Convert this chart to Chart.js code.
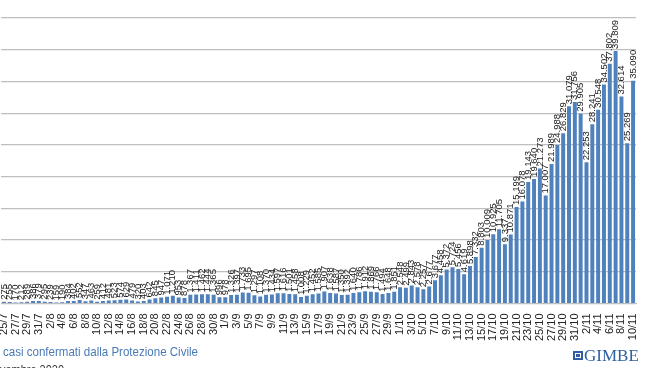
<!DOCTYPE html>
<html>
<head>
<meta charset="utf-8">
<script src="https://cdn.jsdelivr.net/npm/chart.js@4.4.0/dist/chart.umd.min.js"></script>
<style>
  html, body { margin: 0; padding: 0; background: #fff; overflow: hidden; }
  canvas { display: block; }
</style>
</head>
<body>
<canvas id="chart" width="654" height="368"></canvas>
<script>
// giorni dal 25/7 al 10/11
const days = [
  "25/7","26/7","27/7","28/7","29/7","30/7","31/7",
  "1/8","2/8","3/8","4/8","5/8","6/8","7/8","8/8","9/8","10/8","11/8","12/8","13/8","14/8","15/8","16/8",
  "17/8","18/8","19/8","20/8","21/8","22/8","23/8","24/8","25/8","26/8","27/8","28/8","29/8","30/8","31/8",
  "1/9","2/9","3/9","4/9","5/9","6/9","7/9","8/9","9/9","10/9","11/9","12/9","13/9","14/9","15/9",
  "16/9","17/9","18/9","19/9","20/9","21/9","22/9","23/9","24/9","25/9","26/9","27/9","28/9","29/9","30/9",
  "1/10","2/10","3/10","4/10","5/10","6/10","7/10","8/10","9/10","10/10","11/10","12/10","13/10","14/10","15/10","16/10",
  "17/10","18/10","19/10","20/10","21/10","22/10","23/10","24/10","25/10","26/10","27/10","28/10","29/10","30/10","31/10",
  "1/11","2/11","3/11","4/11","5/11","6/11","7/11","8/11","9/11","10/11"
];

// nuovi casi giornalieri
const cases = [
  275, 255, 170, 212, 289, 386, 379,
  295, 239, 159, 190, 384, 402, 552, 347, 463, 259, 412, 481, 523, 574, 629, 479,
  320, 403, 642, 845, 947, 1071, 1210, 953, 878, 1367, 1411, 1462, 1444, 1365, 996,
  978, 1326, 1397, 1733, 1695, 1297, 1108, 1370, 1434, 1597, 1616, 1501, 1458, 1008, 1229,
  1452, 1585, 1907, 1638, 1587, 1350, 1392, 1640, 1786, 1912, 1869, 1766, 1494, 1648, 1851,
  2548, 2499, 2843, 2578, 2257, 2677, 3677, 4458, 5372, 5724, 5456, 4619, 5898, 7332, 8803, 10009,
  10925, 11705, 9337, 10871, 15199, 16078, 19143, 19640, 21273, 17007, 21989, 24988, 26829, 31079, 31756,
  29905, 22253, 28241, 30548, 34502, 37802, 39809, 32614, 25269, 35090
];

const yTicks = [0, 5000, 10000, 15000, 20000, 25000, 30000, 35000, 40000, 45000];

const footerText = "casi confermati dalla Protezione Civile";
const footerText2 = "vembre 2020";

function fmt(v) {
  return String(v).replace(/\B(?=(\d{3})+(?!\d))/g, ".");
}

const valueLabels = {
  id: "valueLabels",
  afterDatasetsDraw(chart) {
    const ctx = chart.ctx;
    const meta = chart.getDatasetMeta(0);
    ctx.save();
    ctx.font = "9.5px 'Liberation Sans', Arial, sans-serif";
    ctx.fillStyle = "#1a1a1a";
    ctx.textAlign = "left";
    ctx.textBaseline = "middle";
    meta.data.forEach((bar, i) => {
      ctx.save();
      ctx.translate(bar.x, bar.y - 2);
      ctx.rotate(-Math.PI / 2);
      ctx.fillText(fmt(cases[i]), 0, 0);
      ctx.restore();
    });
    ctx.restore();
  },
  afterDraw(chart) {
    const ctx = chart.ctx;
    ctx.save();
    ctx.fillStyle = "#4a7ab5";
    ctx.font = "13px 'Liberation Sans', Arial, sans-serif";
    ctx.textBaseline = "alphabetic";
    ctx.fillText(footerText, 3, 356, 195);
    ctx.fillStyle = "#333";
    ctx.font = "12px 'Liberation Sans', Arial, sans-serif";
    ctx.fillText(footerText2, 0, 374, 64);
    // logo GIMBE
    ctx.fillStyle = "#2f5f9e";
    ctx.fillRect(573, 351, 10, 9);
    ctx.strokeStyle = "#fff";
    ctx.lineWidth = 1;
    ctx.strokeRect(575.5, 353.5, 5, 4);
    ctx.font = "17px 'Liberation Serif', 'Times New Roman', serif";
    ctx.fillText("GIMBE", 584, 361);
    ctx.restore();
  }
};

new Chart(document.getElementById("chart"), {
  type: "bar",
  data: {
    labels: days,
    datasets: [{
      data: cases,
      backgroundColor: "#4f81bd",
      barPercentage: 0.68,
      categoryPercentage: 1
    }]
  },
  options: {
    responsive: false,
    devicePixelRatio: 1,
    animation: false,
    layout: { padding: { top: 18, right: 18, left: 1, bottom: 0 } },
    plugins: { legend: { display: false }, tooltip: { enabled: false } },
    scales: {
      x: {
        grid: { display: false },
        border: { display: true, color: "#bfbfbf" },
        ticks: {
          autoSkip: false,
          minRotation: 90,
          maxRotation: 90,
          padding: 2,
          color: "#222",
          font: { family: "'Liberation Sans', Arial, sans-serif", size: 11 },
          callback: function (val, i) { return i % 2 === 0 ? days[i] : ""; }
        },
        afterFit: s => { s.height = 64.5; }
      },
      y: {
        min: 0,
        max: 45000,
        afterBuildTicks: s => { s.ticks = yTicks.map(v => ({ value: v })); },
        grid: { color: "#bfbfbf", lineWidth: 1.2, drawTicks: false },
        border: { display: false },
        ticks: { display: false },
        afterFit: s => { s.width = 0; }
      }
    }
  },
  plugins: [valueLabels]
});
</script>
</body>
</html>
